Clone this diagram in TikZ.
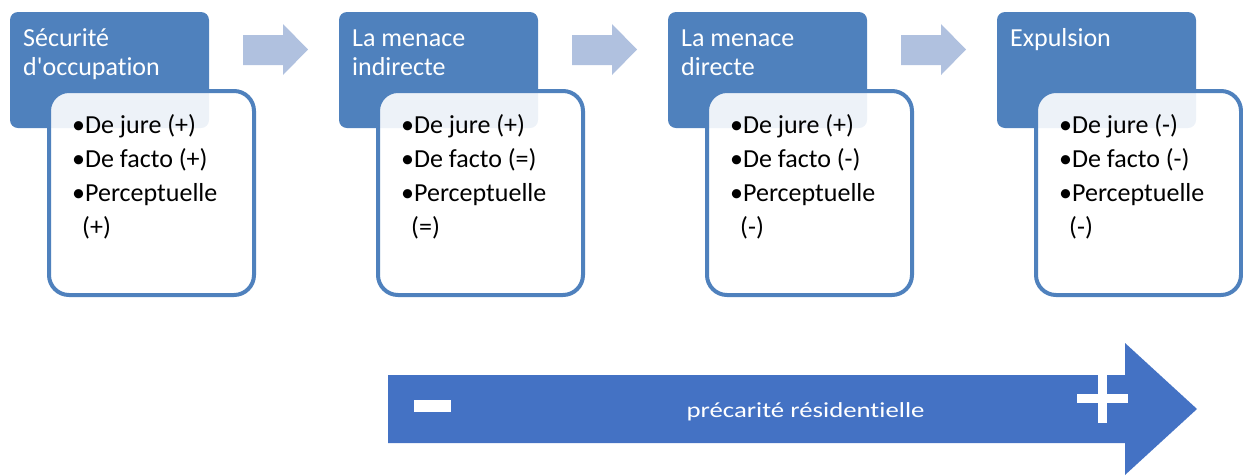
\documentclass[tikz,border=0pt]{standalone}
\usepackage{fontspec}
\setmainfont{Carlito}[Ligatures={NoCommon}]
\definecolor{hdblue}{HTML}{4F81BD}
\definecolor{barblue}{HTML}{4472C4}
\definecolor{stepblue}{HTML}{B0C1DF}

\begin{document}
\begin{tikzpicture}[x=1pt,y=-1pt,
	header/.style={fill=hdblue, rounded corners=8pt, minimum width=199pt, minimum height=116pt, inner sep=0pt, outer sep=0pt, anchor=north west},
	hdtext/.style={text=white, font=\fontsize{26}{29}\selectfont, align=left, inner sep=0pt, anchor=base west},
	listbox/.style={draw=hdblue, line width=4pt, fill=white, fill opacity=0.9, rounded corners=20pt, minimum width=205pt, minimum height=204pt, inner sep=0pt, outer sep=0pt, anchor=north west},
	listtext/.style={font=\fontsize{26}{34}\selectfont, align=left, inner sep=0pt, anchor=base west},
	steparrow/.style={fill=stepblue}]
		\useasboundingbox (0,0) rectangle (1243,475);
		
		% headers with their lists (base = last line)
		\node[header] (h1) at (10,12) {};
		\node[hdtext] (t1) at (23,75) {Sécurité\\d\textquotesingle occupation};
		\node[listbox] (b1) at (49,91) {};
		\node[listtext] (l1) at (72,235) {•De jure (+)\\•De facto (+)\\•Perceptuelle\\\hspace*{10pt}(+)};
		
		\node[header] (h2) at (339,12) {};
		\node[hdtext] (t2) at (352,75) {La menace\\indirecte};
		\node[listbox] (b2) at (378,91) {};
		\node[listtext] (l2) at (401,235) {•De jure (+)\\•De facto (=)\\•Perceptuelle\\\hspace*{10pt}(=)};
		
		\node[header] (h3) at (668,12) {};
		\node[hdtext] (t3) at (681,75) {La menace\\directe};
		\node[listbox] (b3) at (707,91) {};
		\node[listtext] (l3) at (730,235) {•De jure (+)\\•De facto (-)\\•Perceptuelle\\\hspace*{10pt}(-)};
		
		\node[header] (h4) at (997,12) {};
		\node[hdtext] (t4) at (1010,46) {Expulsion};
		\node[listbox] (b4) at (1036,91) {};
		\node[listtext] (l4) at (1059,235) {•De jure (-)\\•De facto (-)\\•Perceptuelle\\\hspace*{10pt}(-)};
		
		% arrows between the steps
		\foreach \dx in {0,329,658}
			\fill[steparrow] (243+\dx,35) -- (283+\dx,35) -- (283+\dx,24) -- (308+\dx,49.5) 
			-- (283+\dx,75) -- (283+\dx,65) -- (243+\dx,65) -- cycle;
		
		% scale
		\fill[barblue] (388,375) -- (1125,375) -- (1125,343) -- (1197,409) 
		-- (1125,475) -- (1125,443) -- (388,443) -- cycle;
		\fill[white] (414,400) rectangle (451,412);
		\fill[white] (1077,394) rectangle (1128,403);
		\fill[white] (1098,374) rectangle (1107,423);
		\node[text=white, font=\fontsize{21.5}{24}\selectfont, xscale=1.245, anchor=base, inner sep=0pt] (prec) at (805.5,417) {précarité résidentielle};
		
\end{tikzpicture}
\end{document}
